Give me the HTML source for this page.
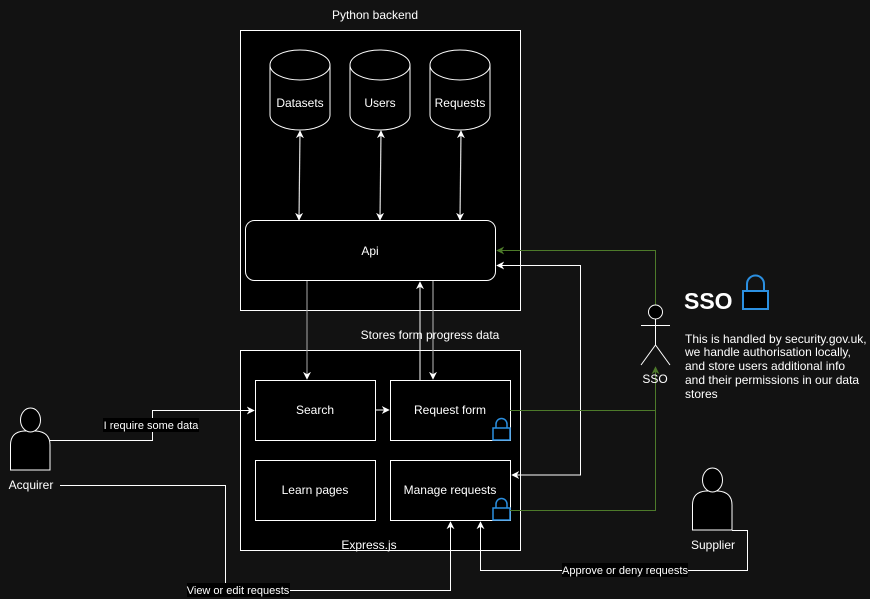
<!DOCTYPE html>
<html><head><meta charset="utf-8"><style>
html,body{margin:0;padding:0;background:#121212;}
svg{display:block;font-family:"Liberation Sans",Arial,sans-serif;}
</style></head><body>
<svg width="870" height="599" viewBox="0 0 870 599" xmlns="http://www.w3.org/2000/svg">
<defs>
<marker id="aw" viewBox="0 0 10 10" refX="9" refY="5" markerWidth="8" markerHeight="8" orient="auto-start-reverse" markerUnits="userSpaceOnUse"><path d="M0,0 L10,5 L0,10 L3,5 z" fill="#fff"/></marker>
<marker id="ag" viewBox="0 0 10 10" refX="9" refY="5" markerWidth="8" markerHeight="8" orient="auto-start-reverse" markerUnits="userSpaceOnUse"><path d="M0,0 L10,5 L0,10 L3,5 z" fill="#4d7a2a"/></marker>
</defs>
<rect width="870" height="599" fill="#121212"/>
<text x="375" y="19" fill="#fff" font-size="12" text-anchor="middle">Python backend</text>
<rect x="240.5" y="30.5" width="280" height="280" fill="#000" stroke="#fff"/>
<g fill="#000" stroke="#fff" stroke-width="1">
<path d="M270,65 L270,115 A30,15 0 0 0 330,115 L330,65"/><ellipse cx="300" cy="65" rx="30" ry="15"/>
<path d="M350,65 L350,115 A30,15 0 0 0 410,115 L410,65"/><ellipse cx="380" cy="65" rx="30" ry="15"/>
<path d="M430,65 L430,115 A30,15 0 0 0 490,115 L490,65"/><ellipse cx="460" cy="65" rx="30" ry="15"/>
</g>
<g fill="#fff" font-size="12" text-anchor="middle">
<text x="300" y="107">Datasets</text><text x="380" y="107">Users</text><text x="460" y="107">Requests</text>
</g>
<g stroke="#ddd" stroke-width="1.2" marker-start="url(#aw)" marker-end="url(#aw)">
<line x1="300" y1="131" x2="299" y2="220"/>
<line x1="381" y1="131" x2="380" y2="220"/>
<line x1="461" y1="131" x2="460" y2="220"/>
</g>
<rect x="245.5" y="220.5" width="250" height="60" rx="9" fill="#000" stroke="#fff"/>
<text x="370" y="255" fill="#fff" font-size="12" text-anchor="middle">Api</text>
<text x="430" y="339" fill="#fff" font-size="12" text-anchor="middle">Stores form progress data</text>
<rect x="240.5" y="350.5" width="280" height="200" fill="#000" stroke="#fff"/>
<text x="369" y="549" fill="#fff" font-size="12" text-anchor="middle">Express.js</text>
<g fill="#000" stroke="#fff">
<rect x="255.5" y="380.5" width="120" height="60"/>
<rect x="390.5" y="380.5" width="120" height="60"/>
<rect x="255.5" y="460.5" width="120" height="60"/>
<rect x="390.5" y="460.5" width="120" height="60"/>
</g>
<g fill="#fff" font-size="12" text-anchor="middle">
<text x="315" y="414">Search</text><text x="450" y="414">Request form</text>
<text x="315" y="494">Learn pages</text><text x="450" y="494">Manage requests</text>
</g>
<g fill="none" stroke="#2b8fe0" stroke-width="1.5">
<rect x="493" y="428" width="17" height="12"/><path d="M496,428 v-4 a5.5,5.5 0 0 1 11,0 v4"/>
<rect x="493" y="508" width="17" height="12"/><path d="M496,508 v-4 a5.5,5.5 0 0 1 11,0 v4"/>
</g>
<g fill="none" stroke="#fff" stroke-width="1">
<line x1="307" y1="281" x2="307" y2="379" stroke="#aaa" marker-end="url(#aw)"/>
<line x1="420" y1="380" x2="420" y2="282" marker-end="url(#aw)"/>
<line x1="433" y1="281" x2="433" y2="379" stroke="#bbb" marker-end="url(#aw)"/>
<line x1="376" y1="410" x2="389" y2="410" marker-end="url(#aw)"/>
<polyline points="512,475 580.5,475 580.5,265.5 497,265.5" marker-start="url(#aw)" marker-end="url(#aw)"/>
<polyline points="50,440.5 152.5,440.5 152.5,410.5 254,410.5" marker-end="url(#aw)"/>
<polyline points="60,485.5 225.5,485.5 225.5,590.5 450.5,590.5 450.5,522" marker-end="url(#aw)"/>
<polyline points="732,530.5 747.5,530.5 747.5,570.5 480.5,570.5 480.5,522" marker-end="url(#aw)"/>
</g>
<g fill="none" stroke="#4d7a2a" stroke-width="1">
<polyline points="655.5,305 655.5,250.5 497,250.5" marker-end="url(#ag)"/>
<line x1="510" y1="410.5" x2="655.5" y2="410.5"/>
<polyline points="510,510.5 655.5,510.5 655.5,367" marker-end="url(#ag)"/>
</g>
<rect x="103" y="418" width="96" height="14" fill="#000"/>
<text x="151" y="429" fill="#fff" font-size="11" text-anchor="middle">I require some data</text>
<rect x="187" y="583" width="103" height="14" fill="#000"/>
<text x="238" y="594" fill="#fff" font-size="11" text-anchor="middle">View or edit requests</text>
<rect x="562" y="563" width="126" height="14" fill="#000"/>
<text x="625" y="574" fill="#fff" font-size="11" text-anchor="middle">Approve or deny requests</text>
<g fill="#000" stroke="#fff" stroke-width="1">
<path d="M10.5,470 L10.5,445 Q10.5,432 24,431 L36,431 Q50,432 50,445 L50,470 Z"/>
<ellipse cx="30.5" cy="420" rx="10" ry="12"/>
<path d="M692.5,530 L692.5,505 Q692.5,492 706,491 L718,491 Q732,492 732,505 L732,530 Z"/>
<ellipse cx="712.5" cy="480" rx="10" ry="12"/>
</g>
<text x="31" y="489" fill="#fff" font-size="12" text-anchor="middle">Acquirer</text>
<text x="713" y="549" fill="#fff" font-size="12" text-anchor="middle">Supplier</text>
<g fill="#000" stroke="#fff" stroke-width="1">
<circle cx="655.5" cy="312" r="7"/>
<line x1="655.5" y1="319" x2="655.5" y2="345"/>
<line x1="641" y1="325.5" x2="670" y2="325.5"/>
<polyline points="641,365 655.5,345 670,365" fill="none"/>
</g>
<text x="655" y="383" fill="#fff" font-size="12" text-anchor="middle">SSO</text>
<text x="684" y="309" fill="#fff" font-size="23" font-weight="bold">SSO</text>
<g fill="#000" stroke="#2b8fe0" stroke-width="2">
<rect x="743" y="291" width="25" height="18"/>
<path d="M747,291 v-7 a8.5,8.5 0 0 1 17,0 v7" fill="none"/>
</g>
<g fill="#fff" font-size="12">
<text x="685" y="343">This is handled by security.gov.uk,</text>
<text x="685" y="356">we handle authorisation locally,</text>
<text x="685" y="370">and store users additional info</text>
<text x="685" y="384">and their permissions in our data</text>
<text x="685" y="398">stores</text>
</g>
</svg>
</body></html>
